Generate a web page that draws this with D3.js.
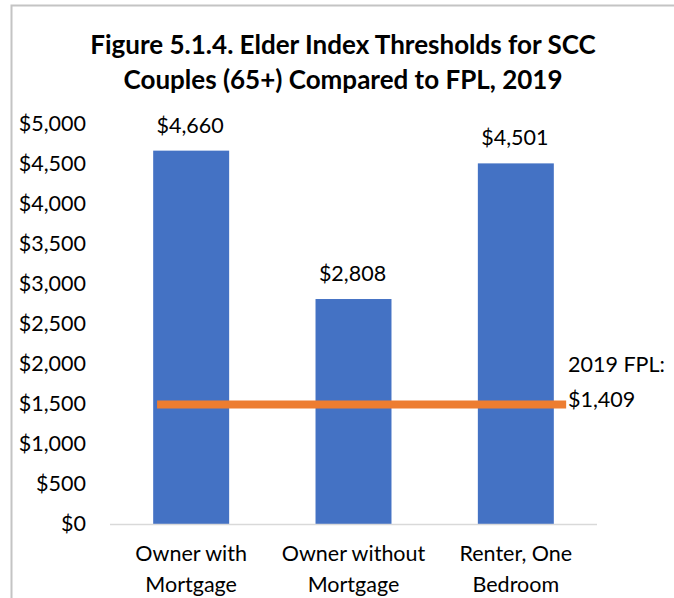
<!DOCTYPE html>
<html><head><meta charset="utf-8">
<script src="https://cdn.jsdelivr.net/npm/d3@7"></script>
<style>
html,body{margin:0;padding:0;background:#fff;}
svg text{font-family:Lato,"Open Sans",sans-serif;fill:#000;}
</style></head>
<body>
<svg id="chart" width="674" height="598"></svg>
<script>
// ---- data ----
const titleLines = ["Figure 5.1.4. Elder Index Thresholds for SCC", "Couples (65+) Compared to FPL, 2019"];
const categories = [["Owner with","Mortgage"],["Owner without","Mortgage"],["Renter, One","Bedroom"]];
const values = [4660, 2808, 4501];
const yTicks = [0,500,1000,1500,2000,2500,3000,3500,4000,4500,5000];
const fplLevel = [1490, 1490];          // plotted level of the orange line
const fplLabel = ["2019 FPL:", "$1,409"];

const svg = d3.select("#chart");
const W = 674, H = 598;
const plot = {left:110, right:597, top:123.4, bottom:524};
const fs = 21.5;

// frame
svg.append("path").attr("d", `M11.5,${H} L11.5,5.5 L${W},5.5`)
  .attr("fill","none").attr("stroke","#c4c4c4").attr("stroke-width",2);

// title
svg.append("g").selectAll("text").data(titleLines).join("text")
  .attr("x", 343).attr("y",(d,i)=>54 + i*35)
  .attr("text-anchor","middle").attr("font-weight","bold").attr("font-size",26)
  .text(d=>d);

const x = d3.scaleBand().domain(d3.range(categories.length)).range([plot.left, plot.right]).paddingInner(0.532).paddingOuter(0.266);
const y = d3.scaleLinear().domain([0,5000]).range([plot.bottom, plot.top]);
const fmt = v => "$" + d3.format(",")(v);

// y axis labels
const yAxis = d3.axisLeft(y).tickValues(yTicks).tickFormat(fmt).tickSize(0).tickPadding(0);
const yg = svg.append("g").attr("transform","translate(86,0)").call(yAxis);
yg.select(".domain").remove();
yg.selectAll("text").attr("font-size",fs).attr("font-family","Lato").attr("fill","#000");

// bars
svg.append("g").selectAll("rect").data(values).join("rect")
  .attr("x",(d,i)=>x(i)).attr("width",x.bandwidth())
  .attr("y",d=>y(d)).attr("height",d=>y(0)-y(d))
  .attr("fill","#4472C4");

// baseline
svg.append("line").attr("x1",plot.left).attr("x2",plot.right)
  .attr("y1",y(0)+0.5).attr("y2",y(0)+0.5).attr("stroke","#d9d9d9").attr("stroke-width",1.5);

// value labels
svg.append("g").selectAll("text").data(values).join("text")
  .attr("x",(d,i)=>x(i)+x.bandwidth()/2 - 1).attr("y",d=>y(d)-18)
  .attr("text-anchor","middle").attr("font-size",fs).text(fmt);

// category labels
const cg = svg.append("g").selectAll("text").data(categories).join("text")
  .attr("x",(d,i)=>x(i)+x.bandwidth()/2).attr("y",561)
  .attr("text-anchor","middle").attr("font-size",fs);
cg.selectAll("tspan").data(d=>d).join("tspan")
  .attr("x",function(){return d3.select(this.parentNode).attr("x");})
  .attr("dy",(d,i)=>i?31:0).text(d=>d);

// FPL line (spans from left of first bar to right of last bar)
const step = x.step();
const lx = d3.scaleLinear().domain([0,1])
  .range([x(0)+x.bandwidth()/2 - 0.21*step, x(categories.length-1)+x.bandwidth()/2 + 0.31*step]);
svg.append("path")
  .datum(fplLevel)
  .attr("d", d3.line().x((d,i)=>lx(i)).y(d=>y(d)))
  .attr("stroke","#ED7D31").attr("stroke-width",8).attr("fill","none");

// FPL label
svg.append("g").selectAll("text").data(fplLabel).join("text")
  .attr("x",568).attr("y",(d,i)=>372 + i*35)
  .attr("font-size",fs).text(d=>d);
</script>
</body></html>
